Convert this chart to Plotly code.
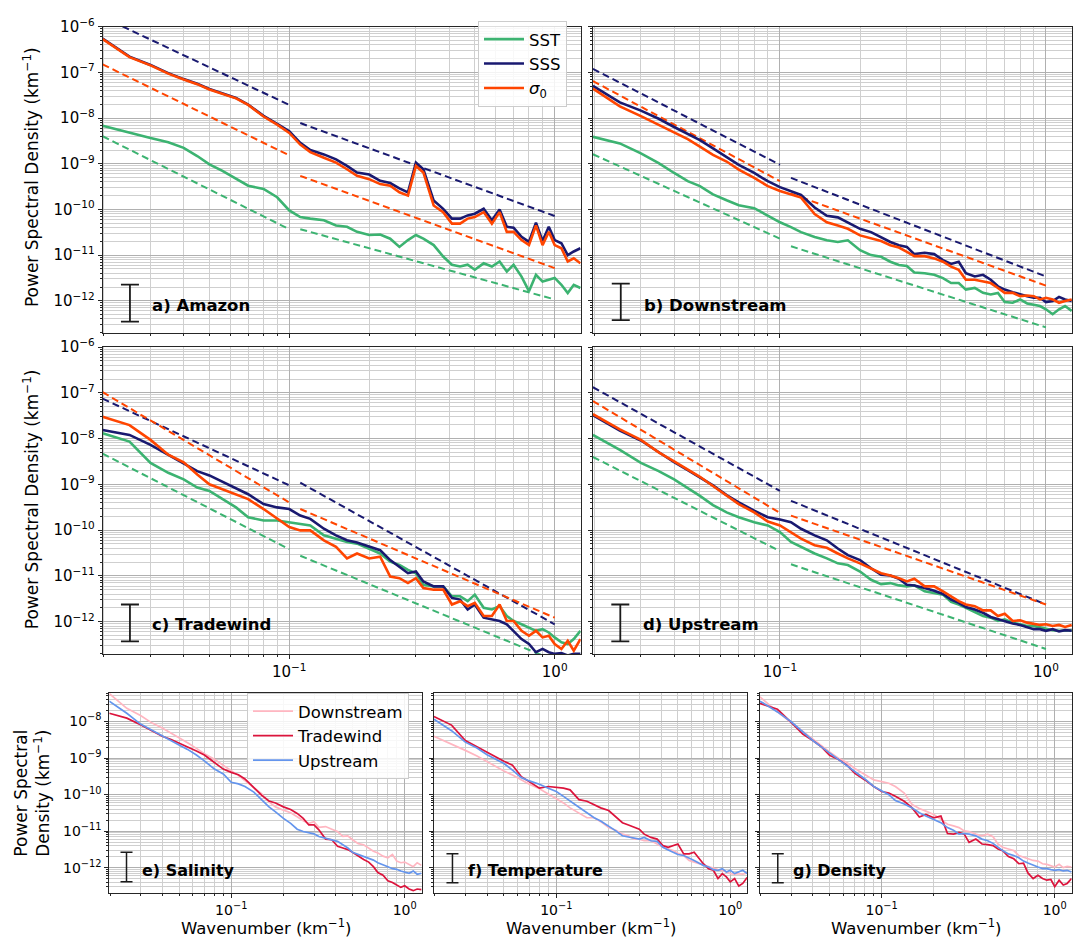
import numpy as np
import plotly.graph_objects as go

# ---------------- data (PSD values stored as log10 of km^-1) ----------------
wavenumber = [0.0198, 0.025, 0.03, 0.035, 0.04, 0.045, 0.05, 0.056, 0.063, 0.07, 0.08, 0.09,
              0.1, 0.11, 0.12, 0.135, 0.15, 0.165, 0.18, 0.2, 0.22, 0.24, 0.26, 0.28, 0.3,
              0.32, 0.35, 0.38, 0.41, 0.44, 0.47, 0.5, 0.54, 0.58, 0.62, 0.66, 0.7, 0.75,
              0.8, 0.85, 0.9, 0.95, 1.0, 1.06, 1.12, 1.18, 1.25]

# a) Amazon
amazon_sst = [-8.166, -8.325, -8.433, -8.527, -8.650, -8.830, -9.011, -9.155, -9.321, -9.480, -9.552, -9.733,
              -10.022, -10.166, -10.20, -10.238, -10.35, -10.38, -10.49, -10.56, -10.55, -10.64, -10.82, -10.67,
              -10.56, -10.64, -10.78, -11.03, -11.21, -11.25, -11.21, -11.32, -11.18, -11.25, -11.14, -11.36,
              -11.21, -11.47, -11.79, -11.43, -11.58, -11.54, -11.50, -11.65, -11.83, -11.65, -11.72]
amazon_sss = [-6.257, -6.654, -6.835, -7.015, -7.145, -7.246, -7.362, -7.463, -7.557, -7.701, -7.950, -8.125,
              -8.29, -8.54, -8.70, -8.794, -8.903, -9.047, -9.191, -9.235, -9.372, -9.422, -9.538, -9.625,
              -8.975, -9.12, -9.805, -9.986, -10.20, -10.20, -10.13, -10.094, -9.986, -10.238, -10.0, -10.38,
              -10.40, -10.60, -10.71, -10.29, -10.69, -10.38, -10.67, -10.74, -11.0, -10.92, -10.85]
amazon_sigma = [-6.267, -6.664, -6.845, -7.025, -7.155, -7.256, -7.372, -7.473, -7.567, -7.711, -7.964, -8.144,
                -8.325, -8.578, -8.744, -8.866, -8.975, -9.119, -9.264, -9.336, -9.444, -9.480, -9.625, -9.697,
                -9.047, -9.19, -9.913, -10.058, -10.31, -10.31, -10.20, -10.166, -10.058, -10.31, -10.058, -10.49,
                -10.49, -10.67, -10.78, -10.35, -10.78, -10.49, -10.78, -10.85, -11.14, -11.07, -11.18]

# b) Downstream
down_sst = [-8.41, -8.554, -8.77, -8.986, -9.201, -9.381, -9.489, -9.669, -9.799, -9.906, -9.971, -10.137,
            -10.281, -10.388, -10.496, -10.604, -10.676, -10.712, -10.676, -10.892, -11.0, -11.036, -11.144,
            -11.216, -11.237, -11.381, -11.396, -11.432, -11.504, -11.612, -11.612, -11.755, -11.719, -11.827,
            -11.863, -11.827, -12.029, -12.043, -11.971, -12.058, -12.079, -12.115, -12.187, -12.295, -12.187,
            -12.115, -12.223]
down_sss = [-7.295, -7.655, -7.835, -8.014, -8.194, -8.338, -8.482, -8.662, -8.842, -9.022, -9.201, -9.381,
            -9.511, -9.597, -9.683, -9.957, -10.137, -10.173, -10.281, -10.424, -10.496, -10.604, -10.712,
            -10.784, -10.82, -10.978, -10.95, -10.978, -11.108, -11.194, -11.144, -11.396, -11.468, -11.432,
            -11.54, -11.683, -11.755, -11.813, -11.863, -11.899, -11.935, -11.935, -12.029, -12.007, -11.914,
            -11.971, -12.007]
down_sigma = [-7.353, -7.741, -7.957, -8.144, -8.302, -8.46, -8.626, -8.806, -8.95, -9.129, -9.309, -9.489,
              -9.597, -9.669, -9.741, -10.101, -10.281, -10.353, -10.424, -10.568, -10.64, -10.69, -10.784,
              -10.835, -10.928, -11.022, -11.022, -11.072, -11.144, -11.252, -11.324, -11.54, -11.54, -11.576,
              -11.612, -11.719, -11.827, -11.827, -11.899, -11.885, -11.899, -11.971, -11.935, -11.971, -12.043,
              -12.007, -11.971]

# c) Tradewind
trade_sst = [-7.885, -8.065, -8.532, -8.748, -8.892, -9.072, -9.144, -9.324, -9.504, -9.719, -9.791, -9.791,
             -9.827, -9.863, -9.899, -10.115, -10.187, -10.259, -10.295, -10.403, -10.511, -10.691, -10.763,
             -10.871, -10.942, -11.194, -11.23, -11.23, -11.446, -11.446, -11.554, -11.41, -11.698, -11.734,
             -11.662, -11.878, -11.986, -12.058, -12.129, -12.201, -12.165, -12.237, -12.345, -12.453, -12.489,
             -12.381, -12.201]
trade_sss = [-7.813, -7.921, -8.137, -8.353, -8.532, -8.712, -8.806, -8.95, -9.094, -9.216, -9.432, -9.504,
             -9.54, -9.683, -9.755, -9.971, -10.115, -10.223, -10.273, -10.367, -10.439, -10.655, -10.799,
             -10.942, -10.906, -11.122, -11.23, -11.23, -11.482, -11.518, -11.734, -11.626, -11.914, -11.95,
             -11.986, -12.058, -12.201, -12.381, -12.489, -12.669, -12.597, -12.669, -12.705, -12.69, -12.74,
             -12.705, -12.705]
trade_sigma = [-7.525, -7.705, -8.029, -8.353, -8.518, -8.784, -9.0, -9.108, -9.216, -9.324, -9.54, -9.755,
               -9.935, -10.007, -10.007, -10.223, -10.367, -10.619, -10.511, -10.619, -10.583, -11.014, -11.05,
               -11.158, -11.05, -11.266, -11.302, -11.302, -11.626, -11.554, -11.662, -11.59, -11.878, -11.878,
               -11.626, -11.986, -11.986, -12.201, -12.309, -12.201, -12.345, -12.309, -12.489, -12.597, -12.417,
               -12.633, -12.381]

# d) Upstream
up_sst = [-7.921, -8.245, -8.532, -8.712, -8.892, -9.072, -9.252, -9.453, -9.612, -9.719, -9.827, -9.899,
          -10.043, -10.259, -10.367, -10.511, -10.619, -10.727, -10.763, -10.906, -11.086, -11.18, -11.158,
          -11.209, -11.23, -11.209, -11.338, -11.374, -11.41, -11.568, -11.626, -11.698, -11.784, -11.878,
          -11.914, -11.986, -11.95, -12.022, -12.058, -12.094, -12.094, -12.129, -12.165, -12.187, -12.201,
          -12.201, -12.187]
up_sss = [-7.489, -7.827, -8.043, -8.302, -8.518, -8.691, -8.856, -9.022, -9.237, -9.396, -9.576, -9.719,
          -9.77, -9.827, -9.971, -10.115, -10.223, -10.403, -10.547, -10.655, -10.835, -10.978, -10.993,
          -11.065, -11.194, -11.209, -11.266, -11.324, -11.396, -11.518, -11.59, -11.683, -11.734, -11.806,
          -11.899, -11.95, -11.986, -12.043, -12.072, -12.115, -12.165, -12.165, -12.201, -12.165, -12.216,
          -12.187, -12.201]
up_sigma = [-7.468, -7.799, -8.029, -8.302, -8.496, -8.676, -8.835, -9.036, -9.252, -9.432, -9.612, -9.813,
            -9.899, -10.043, -10.187, -10.331, -10.388, -10.511, -10.619, -10.727, -10.835, -10.942, -10.993,
            -11.05, -11.122, -11.065, -11.23, -11.23, -11.338, -11.446, -11.554, -11.626, -11.662, -11.755,
            -11.755, -11.878, -11.827, -11.986, -11.971, -12.022, -12.043, -12.072, -12.058, -12.094, -12.072,
            -12.115, -12.072]

# e) Salinity by region
sal_down = [-7.236, -7.64, -7.838, -8.045, -8.18, -8.315, -8.449, -8.584, -8.737, -8.881, -9.034, -9.187,
            -9.348, -9.483, -9.618, -9.798, -9.978, -10.202, -10.337, -10.427, -10.499, -10.607, -10.715,
            -10.787, -10.742, -10.894, -10.876, -10.948, -11.011, -11.146, -11.128, -11.236, -11.344, -11.371,
            -11.461, -11.551, -11.596, -11.685, -11.73, -11.64, -11.82, -11.865, -11.847, -11.91, -11.973,
            -11.865, -11.937]
sal_trade = [-7.775, -7.91, -8.09, -8.27, -8.404, -8.494, -8.584, -8.701, -8.809, -8.917, -9.124, -9.303,
             -9.393, -9.456, -9.573, -9.798, -10.022, -10.175, -10.229, -10.337, -10.409, -10.517, -10.652,
             -10.831, -10.831, -10.966, -11.218, -11.236, -11.416, -11.461, -11.506, -11.578, -11.685, -11.775,
             -11.847, -11.973, -12.135, -12.207, -12.36, -12.404, -12.476, -12.539, -12.494, -12.584, -12.629,
             -12.584, -12.602]
sal_up = [-7.443, -7.775, -8.072, -8.252, -8.404, -8.539, -8.647, -8.764, -8.917, -9.079, -9.303, -9.438,
          -9.663, -9.708, -9.78, -9.933, -10.157, -10.337, -10.472, -10.652, -10.787, -10.948, -11.011,
          -11.038, -11.074, -11.146, -11.191, -11.236, -11.281, -11.371, -11.461, -11.578, -11.64, -11.685,
          -11.73, -11.793, -11.865, -11.91, -11.973, -12.027, -12.045, -12.09, -12.117, -12.153, -12.09,
          -12.18, -12.153]

# f) Temperature by region
tem_down = [-8.404, -8.611, -8.791, -8.944, -9.106, -9.24, -9.357, -9.465, -9.6, -9.717, -9.843, -9.987,
            -10.094, -10.229, -10.364, -10.499, -10.634, -10.634, -10.742, -10.903, -10.975, -11.083, -11.128,
            -11.218, -11.218, -11.263, -11.263, -11.353, -11.443, -11.488, -11.533, -11.605, -11.667, -11.802,
            -11.847, -11.892, -11.937, -11.982, -12.027, -12.054, -12.072, -12.117, -12.162, -12.18, -12.162,
            -12.18, -12.144]
tem_trade = [-7.865, -8.099, -8.521, -8.701, -8.836, -8.971, -9.088, -9.196, -9.51, -9.645, -9.825, -9.78,
             -9.807, -9.825, -9.87, -10.139, -10.184, -10.274, -10.364, -10.436, -10.616, -10.769, -10.831,
             -10.903, -10.948, -11.083, -11.173, -11.218, -11.398, -11.443, -11.398, -11.353, -11.623, -11.623,
             -11.578, -11.757, -11.892, -12.027, -12.072, -12.297, -12.162, -12.252, -12.387, -12.297, -12.503,
             -12.431, -12.27]
tem_up = [-7.937, -8.252, -8.566, -8.728, -8.908, -9.034, -9.151, -9.33, -9.537, -9.627, -9.717, -9.825,
          -9.915, -10.049, -10.184, -10.346, -10.499, -10.634, -10.724, -10.858, -10.993, -11.128, -11.155,
          -11.191, -11.218, -11.173, -11.263, -11.281, -11.443, -11.515, -11.578, -11.64, -11.667, -11.73,
          -11.802, -11.874, -11.937, -11.982, -12.054, -12.072, -12.027, -12.117, -12.072, -12.162, -12.117,
          -12.072, -12.162]

# g) Density by region
den_down = [-7.326, -7.739, -8.027, -8.279, -8.476, -8.674, -8.836, -8.998, -9.124, -9.285, -9.465, -9.6,
            -9.645, -9.69, -9.78, -9.96, -10.274, -10.382, -10.454, -10.544, -10.679, -10.813, -10.858,
            -10.903, -10.993, -11.011, -11.083, -11.128, -11.083, -11.155, -11.353, -11.443, -11.488, -11.533,
            -11.667, -11.712, -11.757, -11.802, -11.82, -11.892, -11.91, -11.937, -11.982, -11.91, -12.0,
            -11.964, -11.982]
den_trade = [-7.506, -7.667, -8.027, -8.342, -8.521, -8.701, -8.926, -9.034, -9.196, -9.42, -9.6, -9.78,
             -9.915, -9.96, -10.049, -10.184, -10.364, -10.616, -10.544, -10.634, -10.589, -11.065, -11.083,
             -11.038, -11.083, -11.308, -11.218, -11.353, -11.371, -11.398, -11.488, -11.533, -11.694, -11.757,
             -11.892, -11.874, -12.144, -12.297, -12.207, -12.297, -12.342, -12.324, -12.521, -12.342, -12.476,
             -12.431, -12.297]
den_up = [-7.443, -7.739, -8.009, -8.297, -8.521, -8.701, -8.863, -9.034, -9.196, -9.375, -9.573, -9.78,
          -9.897, -10.004, -10.166, -10.256, -10.364, -10.499, -10.589, -10.679, -10.769, -10.903, -10.975,
          -11.083, -11.065, -11.083, -11.128, -11.218, -11.263, -11.335, -11.443, -11.533, -11.623, -11.667,
          -11.73, -11.82, -11.874, -11.937, -11.982, -12.027, -12.027, -12.054, -12.072, -12.054, -12.09,
          -12.072, -12.117]

# dashed reference slopes: log10 PSD at the two ends of each segment
ref_k_low = [0.0198, 0.1]
ref_k_high = [0.11, 1.0]
amazon_ref_sst = [[-8.397, -10.433], [-10.433, -11.971]]
amazon_ref_sss = [[-5.786, -7.711], [-8.108, -10.144]]
amazon_ref_sigma = [[-6.823, -8.816], [-9.264, -11.285]]
down_ref_sst = [[-8.791, -10.640], [-10.806, -12.583]]
down_ref_sss = [[-6.921, -9.022], [-9.309, -11.468]]
down_ref_sigma = [[-7.187, -9.381], [-9.655, -11.669]]
trade_ref_sst = [[-8.331, -10.417], [-10.561, -12.849]]
trade_ref_sss = [[-7.129, -9.022], [-8.964, -12.058]]
trade_ref_sigma = [[-6.986, -9.396], [-9.540, -11.914]]
up_ref_sst = [[-8.403, -10.460], [-10.748, -12.597]]
up_ref_sss = [[-6.878, -9.144], [-9.360, -11.626]]
up_ref_sigma = [[-7.180, -9.626], [-9.683, -11.626]]

# confidence-interval bars per panel (a..g): wavenumber, log10 top, log10 bottom
ci_k = [0.0251, 0.0252, 0.0251, 0.0251, 0.0249, 0.0253, 0.0251]
ci_top = [-11.646, -11.626, -11.626, -11.626, -11.578, -11.622, -11.622]
ci_bottom = [-12.455, -12.424, -12.432, -12.432, -12.387, -12.413, -12.413]

panel_labels = ["a) Amazon", "b) Downstream", "c) Tradewind", "d) Upstream",
                "e) Salinity", "f) Temperature", "g) Density"]
x_tick_vals = [0.1, 1.0]
x_tick_text = ["10<sup>−1</sup>", "10<sup>0</sup>"]
top_y_tick_vals = [1e-12, 1e-11, 1e-10, 1e-9, 1e-8, 1e-7, 1e-6]
top_y_tick_text = ["10<sup>−12</sup>", "10<sup>−11</sup>", "10<sup>−10</sup>", "10<sup>−9</sup>",
                   "10<sup>−8</sup>", "10<sup>−7</sup>", "10<sup>−6</sup>"]
bot_y_tick_vals = [1e-12, 1e-11, 1e-10, 1e-9, 1e-8]
bot_y_tick_text = ["10<sup>−12</sup>", "10<sup>−11</sup>", "10<sup>−10</sup>", "10<sup>−9</sup>",
                   "10<sup>−8</sup>"]

# ---------------- styling ----------------
FONT = "DejaVu Sans"
C_SST, C_SSS, C_SIG = "#3cb371", "#191970", "#ff4500"
C_DOWN, C_TRADE, C_UP = "#ffb6c1", "#dc143c", "#6495ed"
W, H = 1084, 943

X_RANGE = [-1.703, 0.098]
TOP_Y_RANGE = [-12.71, -6.0]
BOT_Y_RANGE = [-12.69, -7.22]

doms = [
    ([102.7 / W, 580.7 / W], [1 - 326 / H, 1 - 16 / H]),
    ([593 / W, 1072 / W], [1 - 326 / H, 1 - 16 / H]),
    ([102.7 / W, 580.7 / W], [1 - 650.7 / H, 1 - 340 / H]),
    ([593 / W, 1072 / W], [1 - 650.7 / H, 1 - 340 / H]),
    ([109.3 / W, 421.7 / W], [1 - 892.3 / H, 1 - 690 / H]),
    ([434 / W, 747.3 / W], [1 - 892.3 / H, 1 - 690 / H]),
    ([760 / W, 1071.7 / W], [1 - 892.3 / H, 1 - 690 / H]),
]

minor_x = [m * 10.0 ** e for e in (-2, -1) for m in range(2, 10)]
minor_y = [m * 10.0 ** e for e in range(-13, -6) for m in range(2, 10)]


def xid(i):
    return "x" if i == 0 else f"x{i + 1}"


def yid(i):
    return "y" if i == 0 else f"y{i + 1}"


fig = go.Figure()


def P(vals):
    return [10.0 ** v for v in vals]


def add_curve(i, yvals, color, name, width, legend=None):
    fig.add_trace(go.Scatter(
        x=wavenumber, y=P(yvals), mode="lines", name=name,
        line=dict(color=color, width=width),
        xaxis=xid(i), yaxis=yid(i),
        showlegend=legend is not None, legend=legend or "legend", hoverinfo="skip"))


def add_ref(i, segs, color):
    for ks, seg in zip((ref_k_low, ref_k_high), segs):
        fig.add_trace(go.Scatter(
            x=ks, y=P(seg), mode="lines", line=dict(color=color, width=2, dash="7px,4px"),
            xaxis=xid(i), yaxis=yid(i), showlegend=False, hoverinfo="skip"))


def add_ci(i, width, thick):
    c = (ci_top[i] + ci_bottom[i]) / 2
    fig.add_trace(go.Scatter(
        x=[ci_k[i]], y=[10.0 ** c], mode="markers",
        marker=dict(size=1, color="rgba(0,0,0,0)"),
        error_y=dict(type="data", symmetric=False, array=[10.0 ** ci_top[i] - 10.0 ** c],
                     arrayminus=[10.0 ** c - 10.0 ** ci_bottom[i]],
                     color="#1a1a1a", thickness=thick, width=width),
        xaxis=xid(i), yaxis=yid(i), showlegend=False, hoverinfo="skip"))


top_sets = [
    (amazon_sst, amazon_sss, amazon_sigma, amazon_ref_sst, amazon_ref_sss, amazon_ref_sigma),
    (down_sst, down_sss, down_sigma, down_ref_sst, down_ref_sss, down_ref_sigma),
    (trade_sst, trade_sss, trade_sigma, trade_ref_sst, trade_ref_sss, trade_ref_sigma),
    (up_sst, up_sss, up_sigma, up_ref_sst, up_ref_sss, up_ref_sigma),
]
for i, (sst, sss, sig, rsst, rsss, rsig) in enumerate(top_sets):
    add_ref(i, rsss, C_SSS)
    add_ref(i, rsig, C_SIG)
    add_ref(i, rsst, C_SST)
    leg = "legend" if i == 0 else None
    add_curve(i, sst, C_SST, "SST", 2.6, leg)
    add_curve(i, sss, C_SSS, "SSS", 2.6, leg)
    add_curve(i, sig, C_SIG, "<i>σ</i><sub>0</sub>", 2.6, leg)
    add_ci(i, 9, 1.8)

bot_sets = [(sal_down, sal_trade, sal_up), (tem_down, tem_trade, tem_up), (den_down, den_trade, den_up)]
for j, (dn, tr, up) in enumerate(bot_sets):
    i = 4 + j
    leg = "legend2" if j == 0 else None
    add_curve(i, dn, C_DOWN, "Downstream", 1.7, leg)
    add_curve(i, tr, C_TRADE, "Tradewind", 1.7, leg)
    add_curve(i, up, C_UP, "Upstream", 1.7, leg)
    add_ci(i, 6, 1.5)

layout = dict(
    width=W, height=H, margin=dict(l=0, r=0, t=0, b=0),
    paper_bgcolor="white", plot_bgcolor="white",
    font=dict(family=FONT, color="black"),
    legend=dict(x=478 / W, y=1 - 10 / H, xanchor="left", yanchor="top",
                bgcolor="rgba(255,255,255,0.85)", bordercolor="#cccccc", borderwidth=1,
                font=dict(family=FONT, size=16.5), itemwidth=40),
    legend2=dict(x=247 / W, y=1 - 690 / H, xanchor="left", yanchor="top",
                 bgcolor="rgba(255,255,255,0.85)", bordercolor="#cccccc", borderwidth=1,
                 font=dict(family=FONT, size=16.5), itemwidth=40),
)

for i in range(7):
    top = i < 4
    xd, yd = doms[i]
    tfs = 15 if top else 14
    common = dict(type="log", showline=True, linecolor="#262626", linewidth=1, mirror=True,
                  ticks="outside", ticklen=4, tickwidth=1, tickcolor="#262626",
                  showgrid=True, gridcolor="#b0b0b0", gridwidth=1.2, zeroline=False,
                  tickfont=dict(family=FONT, size=tfs, color="black"), tickmode="array")
    show_x = i in (2, 3, 4, 5, 6)
    show_y = i in (0, 2, 4)
    xname = "xaxis" if i == 0 else f"xaxis{i + 1}"
    yname = "yaxis" if i == 0 else f"yaxis{i + 1}"
    layout[xname] = dict(
        common, domain=xd, anchor=yid(i), range=X_RANGE,
        tickvals=x_tick_vals, ticktext=x_tick_text, showticklabels=show_x,
        minor=dict(tickmode="array", tickvals=minor_x, ticks="outside", ticklen=2,
                   tickcolor="#262626", showgrid=True, gridcolor="#cfcfcf", gridwidth=0.9))
    layout[yname] = dict(
        common, domain=yd, anchor=xid(i),
        range=TOP_Y_RANGE if top else BOT_Y_RANGE,
        tickvals=top_y_tick_vals if top else bot_y_tick_vals,
        ticktext=top_y_tick_text if top else bot_y_tick_text,
        showticklabels=show_y,
        minor=dict(tickmode="array", tickvals=minor_y, ticks="outside", ticklen=2,
                   tickcolor="#262626", showgrid=True, gridcolor="#cfcfcf", gridwidth=0.9))

fig.update_layout(**layout)

# panel labels
lab_pos = [(0.099, 0.090), (0.102, 0.090), (0.099, 0.096), (0.100, 0.096),
           (0.098, 0.110), (0.101, 0.110), (0.0985, 0.110)]
for i, (lx, ly) in enumerate(lab_pos):
    fig.add_annotation(text=f"<b>{panel_labels[i]}</b>", xref=f"{xid(i)} domain", yref=f"{yid(i)} domain",
                       x=lx, y=ly, xanchor="left", yanchor="middle", showarrow=False,
                       font=dict(family=FONT, size=16.5 if i < 4 else 16, color="black"))

# axis titles
ylab = "Power Spectral Density (km<sup>−1</sup>)"
for yc in (168, 494):
    fig.add_annotation(text=ylab, xref="paper", yref="paper", x=31 / W, y=1 - yc / H,
                       textangle=-90, showarrow=False, xanchor="center", yanchor="middle",
                       font=dict(family=FONT, size=17, color="black"))
fig.add_annotation(text="Power Spectral<br>Density (km<sup>−1</sup>)", xref="paper", yref="paper",
                   x=32 / W, y=1 - 792 / H, textangle=-90, showarrow=False,
                   xanchor="center", yanchor="middle", font=dict(family=FONT, size=17, color="black"))
for i in (4, 5, 6):
    xd = doms[i][0]
    fig.add_annotation(text="Wavenumber (km<sup>−1</sup>)", xref="paper", yref="paper",
                       x=(xd[0] + xd[1]) / 2, y=1 - 927 / H, showarrow=False,
                       xanchor="center", yanchor="middle", font=dict(family=FONT, size=16.5, color="black"))

fig.write_html("out.html")
